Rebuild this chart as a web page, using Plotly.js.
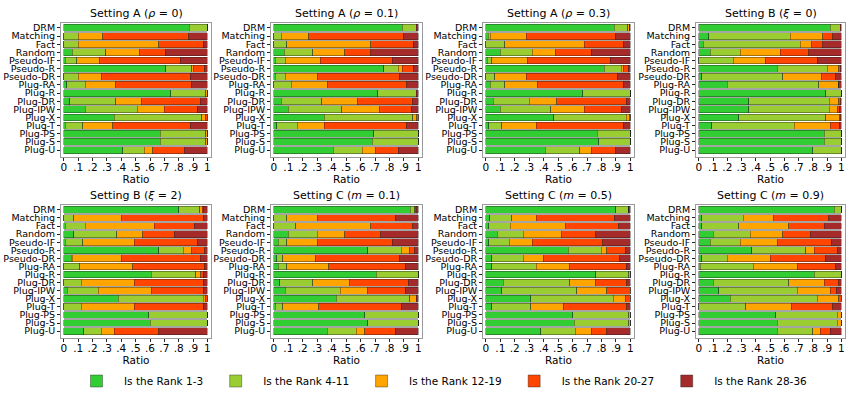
<!DOCTYPE html>
<html>
<head>
<meta charset="utf-8">
<script src="https://cdn.plot.ly/plotly-3.0.1.min.js"></script>
<style>
  body { margin: 0; background: #fff; }
  #chart { width: 856px; height: 400px; }
</style>
</head>
<body>
<div id="chart"></div>
<script>
// methods, top to bottom
var methods = ["DRM", "Matching", "Fact", "Random", "Pseudo-IF", "Pseudo-R", "Pseudo-DR", "Plug-RA",
               "Plug-R", "Plug-DR", "Plug-IPW", "Plug-X", "Plug-T", "Plug-PS", "Plug-S", "Plug-U"];

var rankNames = ["Is the Rank 1-3", "Is the Rank 4-11", "Is the Rank 12-19", "Is the Rank 20-27", "Is the Rank 28-36"];

var xTickVals = [0, 0.1, 0.2, 0.3, 0.4, 0.5, 0.6, 0.7, 0.8, 0.9, 1];
var xTickText = ["0", ".1", ".2", ".3", ".4", ".5", ".6", ".7", ".8", ".9", "1"];

var panelTitles = ["Setting A (<i>ρ</i> = 0)", "Setting A (<i>ρ</i> = 0.1)", "Setting A (<i>ρ</i> = 0.3)",
                   "Setting B (<i>ξ</i> = 0)", "Setting B (<i>ξ</i> = 2)", "Setting C (<i>m</i> = 0.1)",
                   "Setting C (<i>m</i> = 0.5)", "Setting C (<i>m</i> = 0.9)"];

// each row: share of rank 1-3, 4-11, 12-19, 20-27, 28-36 (same order as methods)
var settingA_rho0 = [
  [0.875, 0.125, 0, 0, 0], [0, 0.10, 0.17, 0.60, 0.13], [0, 0.10, 0.56, 0.31, 0.03], [0.06, 0.23, 0.24, 0.18, 0.29],
  [0.01, 0.08, 0.16, 0.56, 0.19], [0.71, 0.18, 0.01, 0.08, 0.02], [0, 0.10, 0.16, 0.62, 0.12], [0.02, 0.13, 0.21, 0.53, 0.11],
  [0.745, 0.245, 0.01, 0, 0], [0.04, 0.32, 0.18, 0.41, 0.05], [0.15, 0.36, 0.19, 0.23, 0.07], [0.35, 0.61, 0.03, 0.01, 0],
  [0.01, 0.12, 0.21, 0.54, 0.12], [0.67, 0.32, 0.01, 0, 0], [0.67, 0.32, 0.01, 0, 0], [0.41, 0.15, 0.06, 0.22, 0.16]
];
var settingA_rho01 = [
  [0.89, 0.095, 0, 0, 0.015], [0, 0.05, 0.19, 0.66, 0.10], [0, 0.09, 0.58, 0.295, 0.035], [0.07, 0.20, 0.22, 0.18, 0.33],
  [0.01, 0.07, 0.24, 0.50, 0.18], [0.76, 0.10, 0.03, 0.075, 0.035], [0.01, 0.07, 0.22, 0.57, 0.13], [0, 0.12, 0.25, 0.55, 0.08],
  [0.72, 0.265, 0, 0, 0.015], [0.05, 0.28, 0.25, 0.38, 0.04], [0.10, 0.37, 0.26, 0.22, 0.05], [0.35, 0.61, 0.03, 0.01, 0],
  [0.02, 0.14, 0.19, 0.57, 0.08], [0.69, 0.31, 0, 0, 0], [0.68, 0.32, 0, 0, 0], [0.41, 0.20, 0.09, 0.16, 0.14]
];
var settingA_rho03 = [
  [0.89, 0.09, 0.015, 0, 0.005], [0.015, 0.015, 0.25, 0.62, 0.10], [0, 0.13, 0.55, 0.275, 0.045], [0.10, 0.22, 0.16, 0.25, 0.27],
  [0.01, 0.03, 0.25, 0.57, 0.14], [0.82, 0.115, 0.015, 0.035, 0.015], [0, 0.06, 0.22, 0.63, 0.09], [0.03, 0.10, 0.225, 0.595, 0.05],
  [0.67, 0.33, 0, 0, 0], [0.05, 0.25, 0.19, 0.48, 0.03], [0.10, 0.35, 0.23, 0.26, 0.06], [0.47, 0.50, 0.025, 0.005, 0],
  [0.02, 0.09, 0.24, 0.60, 0.05], [0.77, 0.23, 0, 0, 0], [0.78, 0.22, 0, 0, 0], [0.41, 0.24, 0.08, 0.17, 0.10]
];
var settingB_xi0 = [
  [0.92, 0.07, 0, 0, 0.01], [0.07, 0.57, 0.23, 0.07, 0.06], [0.03, 0.68, 0.08, 0.08, 0.13], [0.08, 0.21, 0.28, 0.20, 0.23],
  [0, 0.24, 0.23, 0.36, 0.17], [0.55, 0.35, 0.08, 0.01, 0.01], [0.02, 0.57, 0.27, 0.10, 0.04], [0.20, 0.64, 0.14, 0, 0.02],
  [0.89, 0.11, 0, 0, 0], [0.35, 0.565, 0.065, 0.015, 0.005], [0.35, 0.565, 0.055, 0.015, 0.015], [0.28, 0.61, 0.095, 0.01, 0.005],
  [0.09, 0.58, 0.25, 0.065, 0.015], [0.88, 0.12, 0, 0, 0], [0.88, 0.12, 0, 0, 0], [0.80, 0.20, 0, 0, 0]
];
var settingB_xi2 = [
  [0.80, 0.145, 0.02, 0.01, 0.025], [0, 0.07, 0.33, 0.57, 0.03], [0.01, 0.14, 0.48, 0.28, 0.09], [0.07, 0.30, 0.18, 0.22, 0.23],
  [0.01, 0.12, 0.36, 0.44, 0.07], [0.66, 0.17, 0.06, 0.09, 0.02], [0.05, 0.01, 0.34, 0.55, 0.05], [0, 0.11, 0.37, 0.50, 0.02],
  [0.61, 0.31, 0.035, 0.015, 0.03], [0, 0.12, 0.37, 0.48, 0.03], [0.025, 0.215, 0.37, 0.36, 0.03], [0.38, 0.59, 0.02, 0.01, 0],
  [0, 0.12, 0.37, 0.48, 0.03], [0.59, 0.41, 0, 0, 0], [0.60, 0.40, 0, 0, 0], [0.14, 0.12, 0.09, 0.31, 0.34]
];
var settingC_m01 = [
  [0.945, 0.03, 0.005, 0.01, 0.01], [0, 0.09, 0.21, 0.54, 0.16], [0, 0.15, 0.52, 0.29, 0.04], [0.10, 0.20, 0.19, 0.25, 0.26],
  [0.03, 0.06, 0.21, 0.52, 0.18], [0.65, 0.23, 0.055, 0.04, 0.025], [0.02, 0.04, 0.23, 0.58, 0.13], [0.03, 0.06, 0.29, 0.53, 0.09],
  [0.71, 0.29, 0, 0, 0], [0.04, 0.23, 0.25, 0.41, 0.07], [0.08, 0.38, 0.19, 0.26, 0.09], [0.43, 0.51, 0.045, 0, 0.015],
  [0.01, 0.05, 0.25, 0.57, 0.12], [0.63, 0.37, 0, 0, 0], [0.65, 0.35, 0, 0, 0], [0.37, 0.20, 0.06, 0.21, 0.16]
];
var settingC_m05 = [
  [0.90, 0.09, 0, 0, 0.01], [0.025, 0.155, 0.17, 0.54, 0.11], [0.02, 0.15, 0.38, 0.37, 0.08], [0.08, 0.18, 0.265, 0.235, 0.24],
  [0.02, 0.14, 0.16, 0.49, 0.19], [0.57, 0.23, 0.035, 0.13, 0.035], [0.04, 0.22, 0.14, 0.525, 0.075], [0.04, 0.31, 0.23, 0.39, 0.03],
  [0.76, 0.23, 0.01, 0, 0], [0.12, 0.46, 0.18, 0.215, 0.025], [0.11, 0.52, 0.205, 0.165, 0], [0.31, 0.57, 0.085, 0.035, 0],
  [0.04, 0.27, 0.23, 0.435, 0.025], [0.60, 0.39, 0.01, 0, 0], [0.61, 0.38, 0.01, 0, 0], [0.38, 0.24, 0.11, 0.105, 0.165]
];
var settingC_m09 = [
  [0.95, 0.05, 0, 0, 0], [0.02, 0.29, 0.21, 0.39, 0.09], [0.02, 0.26, 0.35, 0.25, 0.12], [0.10, 0.26, 0.23, 0.19, 0.22],
  [0.08, 0.21, 0.26, 0.38, 0.07], [0.37, 0.38, 0.06, 0.16, 0.03], [0.02, 0.18, 0.30, 0.39, 0.11], [0.01, 0.37, 0.31, 0.27, 0.04],
  [0.81, 0.19, 0, 0, 0], [0.10, 0.53, 0.25, 0.10, 0.02], [0.14, 0.55, 0.23, 0.045, 0.035], [0.22, 0.61, 0.15, 0.02, 0],
  [0, 0.33, 0.32, 0.29, 0.06], [0.54, 0.43, 0.03, 0, 0], [0.55, 0.42, 0.03, 0, 0], [0.55, 0.25, 0.05, 0.07, 0.08]
];

var panelData = [settingA_rho0, settingA_rho01, settingA_rho03, settingB_xi0,
                 settingB_xi2, settingC_m01, settingC_m05, settingC_m09];

var rankColors = ["#32CD32", "#9ACD32", "#FFA500", "#FF4500", "#A52A2A"];
var font = "DejaVu Sans, sans-serif";

// panel frames in pixels (856x400 page)
var colPx = [[61, 211], [271, 422], [483, 634], [696, 845]];
var rowPx = [[23, 157], [205, 338]];

function column(rows, k) {
  var out = [];
  for (var i = 0; i < rows.length; i++) out.push(rows[i][k]);
  return out;
}

var traces = [];
var layout = {
  width: 856, height: 400,
  margin: {l: 0, r: 0, t: 0, b: 0},
  paper_bgcolor: "#fff", plot_bgcolor: "#fff",
  barmode: "stack", bargap: 0.15,
  font: {family: font, color: "#000"},
  showlegend: true,
  legend: {orientation: "h", x: 0.0806, y: 1 - 381 / 400, xanchor: "left", yanchor: "middle",
           itemwidth: 45, font: {size: 10.5}, traceorder: "normal"},
  annotations: [],
  hovermode: false
};

for (var p = 0; p < 8; p++) {
  var sfx = p == 0 ? "" : String(p + 1);
  var col = colPx[p % 4], row = rowPx[Math.floor(p / 4)];
  var xd = [col[0] / 856, col[1] / 856];
  var yd = [1 - row[1] / 400, 1 - row[0] / 400];

  for (var r = 0; r < 5; r++) {
    traces.push({
      type: "bar", orientation: "h",
      x: column(panelData[p], r), y: methods,
      xaxis: "x" + sfx, yaxis: "y" + sfx,
      name: rankNames[r], legendgroup: "r" + r, showlegend: p == 0,
      marker: {color: rankColors[r], line: {color: "rgba(30,30,30,0.8)", width: 0.5}}
    });
  }

  layout["xaxis" + sfx] = {
    domain: xd, anchor: "y" + sfx, range: [-0.02, 1.025],
    tickmode: "array", tickvals: xTickVals, ticktext: xTickText,
    ticks: "outside", ticklen: 3, tickcolor: "#222", ticklabelstandoff: -3,
    tickfont: {size: 10.5}, showgrid: false, zeroline: false,
    showline: true, mirror: true, linecolor: "#9a9a9a", linewidth: 1,
    title: {text: "Ratio", font: {size: 10.5}, standoff: 0}
  };
  layout["yaxis" + sfx] = {
    domain: yd, anchor: "x" + sfx, type: "category", range: [15.85, -0.6],
    tickmode: "array", tickvals: methods, ticktext: methods,
    ticks: "outside", ticklen: 3, tickcolor: "#222", tickfont: {size: 9.5},
    showgrid: false, zeroline: false,
    showline: true, mirror: true, linecolor: "#9a9a9a", linewidth: 1
  };
  layout.annotations.push({
    text: panelTitles[p], xref: "paper", yref: "paper",
    x: (xd[0] + xd[1]) / 2, y: yd[1], xanchor: "center", yanchor: "bottom", yshift: 1,
    showarrow: false, font: {size: 11}
  });
}

Plotly.newPlot("chart", traces, layout, {staticPlot: true});
</script>
</body>
</html>
